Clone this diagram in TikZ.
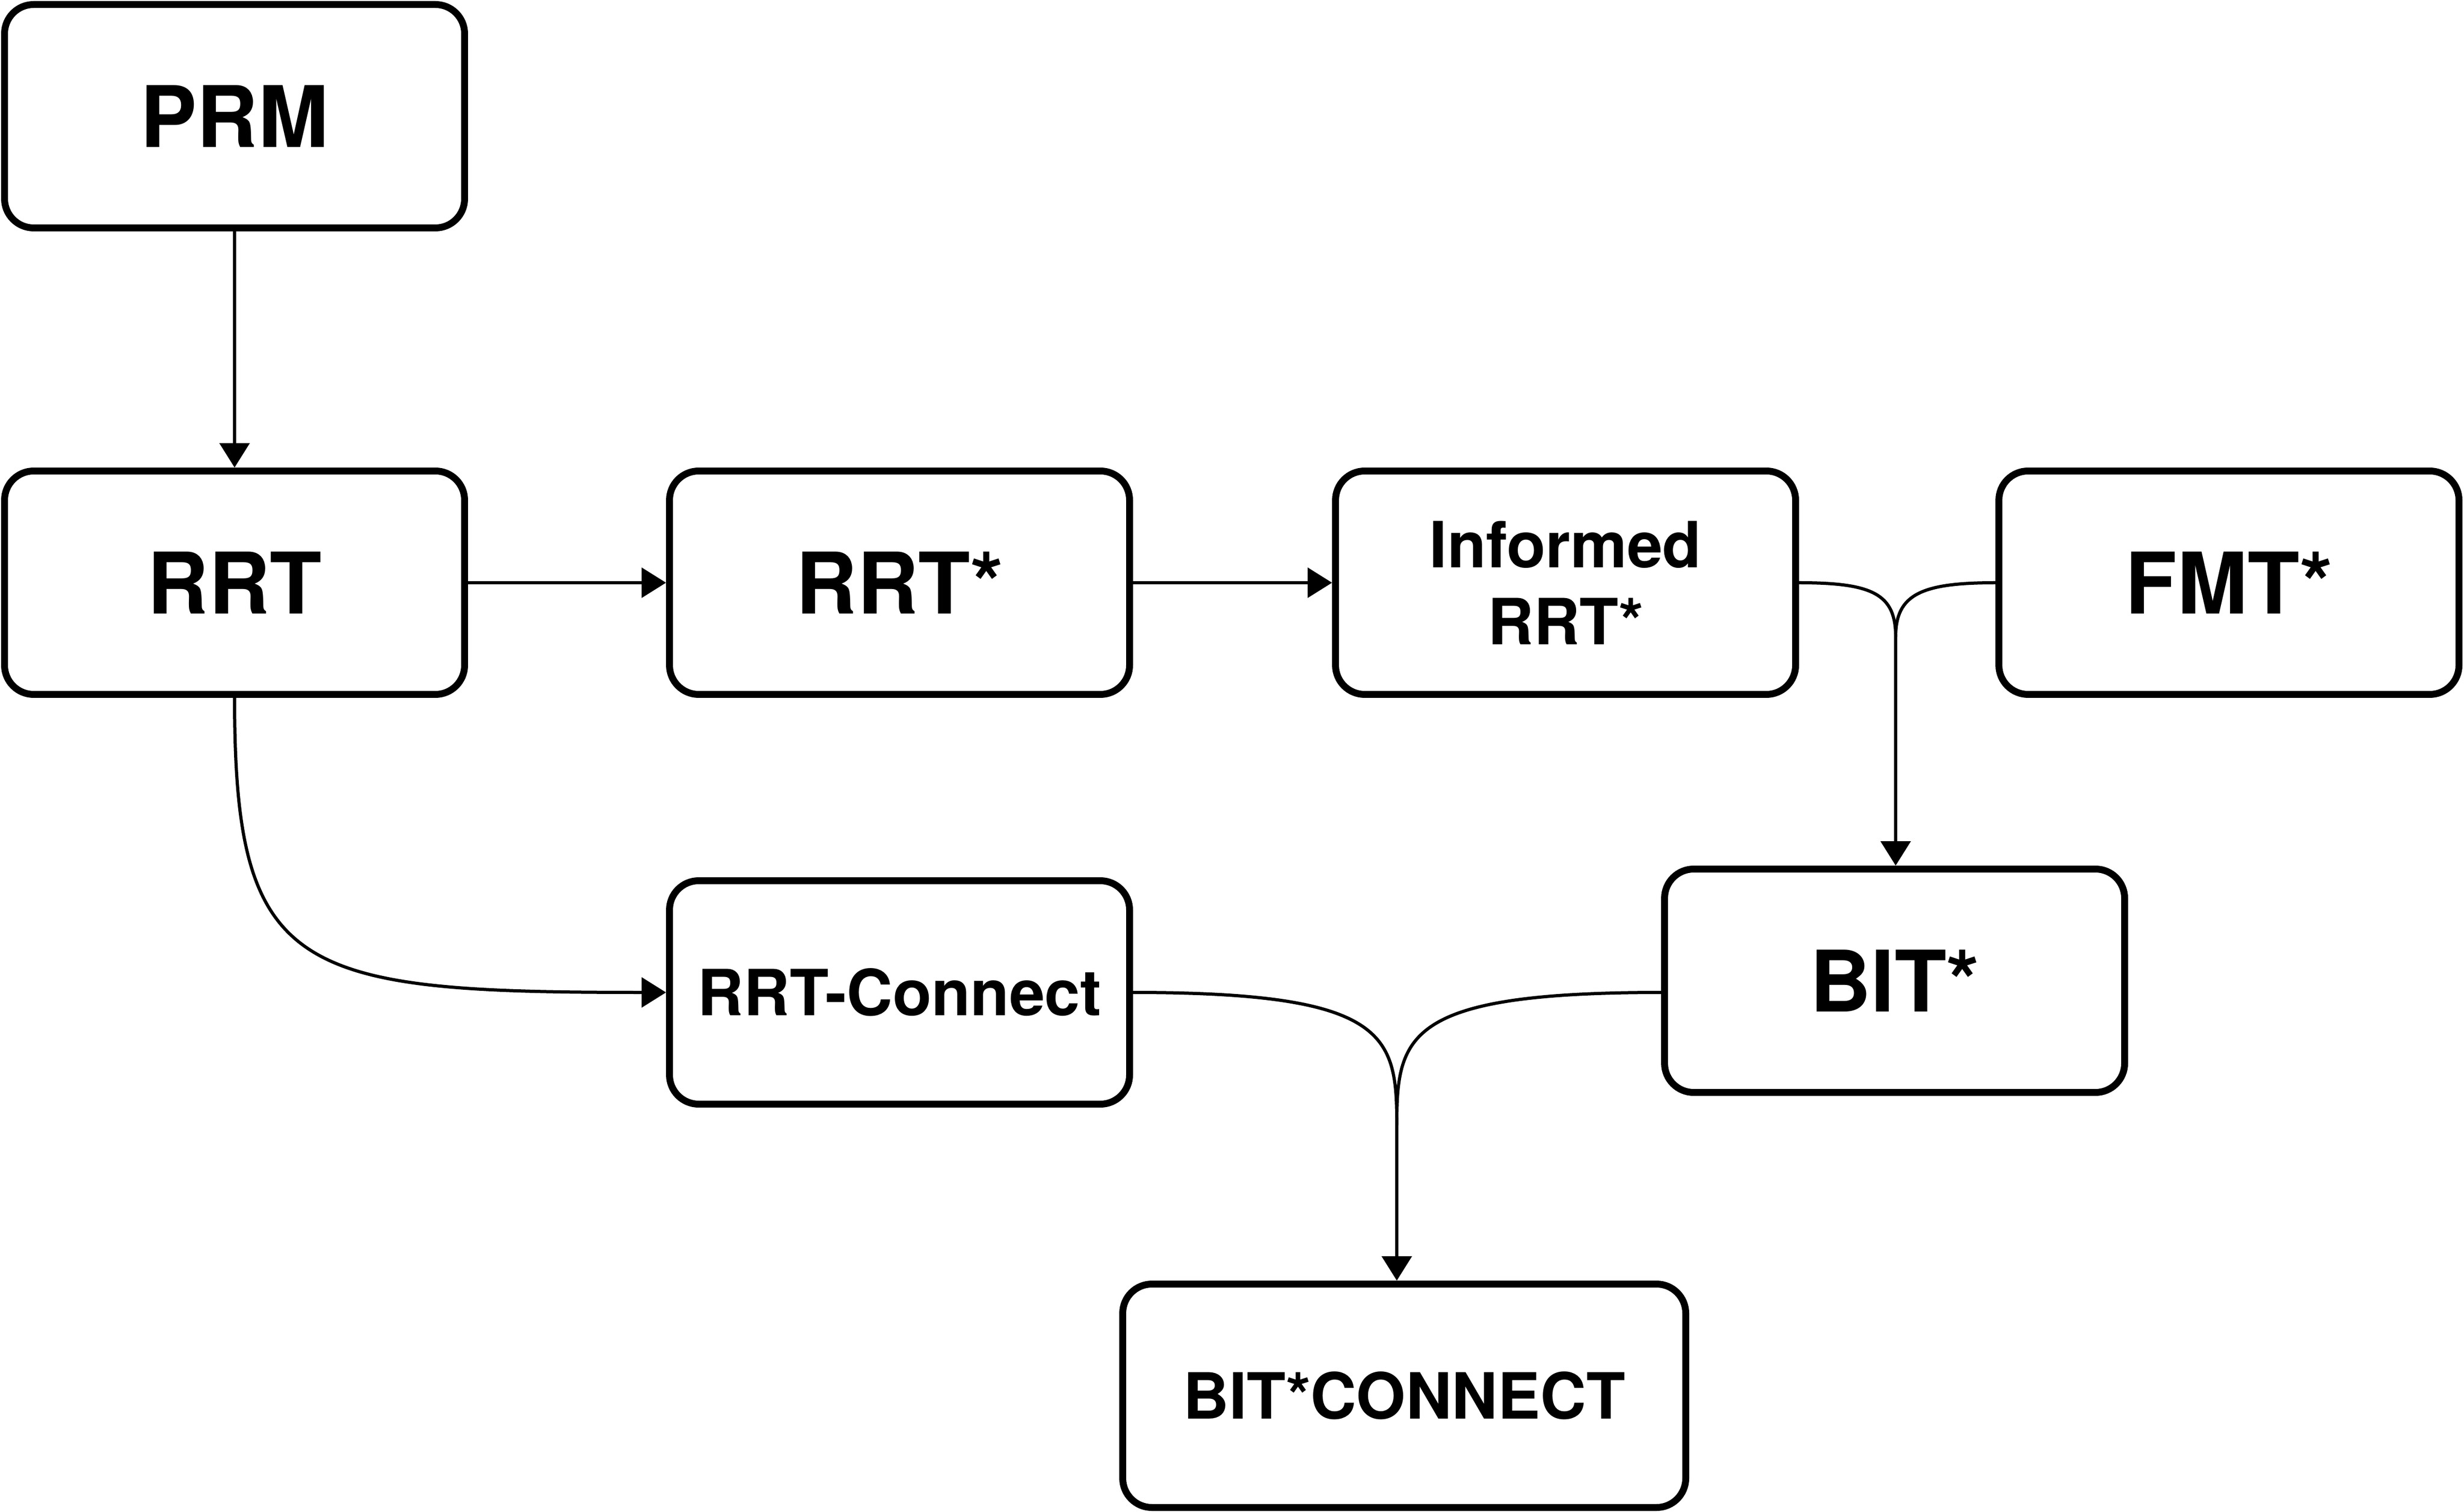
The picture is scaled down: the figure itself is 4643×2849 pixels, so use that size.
\documentclass[tikz,border=0pt]{standalone}
\usepackage{fontspec}
\setmainfont{TeX Gyre Heros}
\usetikzlibrary{arrows.meta}
\begin{document}
\begin{tikzpicture}[x=0.1pt,y=-0.1pt,
  algoBox/.style={draw=drawColor,line width=1.3pt,rounded corners=5.5pt,inner sep=0pt,
    minimum width=86.7pt,minimum height=42.1pt,align=center,text=drawColor},
  bigText/.style={font=\fontsize{16}{19}\selectfont\bfseries},
  smallText/.style={font=\fontsize{12}{14.5}\selectfont\bfseries},
  linkLine/.style={draw=drawColor,line width=0.6pt},
  linkArrow/.style={linkLine,-{Triangle[length=4.6pt,width=5.6pt]}}]
\definecolor{fillColor}{RGB}{255,255,255}
\definecolor{drawColor}{RGB}{0,0,0}
\path[use as bounding box,fill=fillColor] (0,0) rectangle (4643,2849);

\node[algoBox,bigText] (prm) at ( 442, 219) {PRM};

\node[algoBox,bigText] (rrt) at ( 442,1098) {RRT};

\node[algoBox,bigText] (rrtStar) at (1695,1098) {RRT*};

\node[algoBox,smallText] (informed) at (2950,1098) {Informed\\RRT*};

\node[algoBox,bigText] (fmtStar) at (4200,1098) {FMT*};

\node[algoBox,smallText] (rrtConnect) at (1695,1870) {RRT-Connect};

\node[algoBox,bigText] (bitStar) at (3570,1848) {BIT*};

\node[algoBox,smallText,minimum width=106.1pt] (bitConnect) at (2646,2630) {BIT*CONNECT};

\coordinate (mergeTop) at (3572,1200);

\coordinate (mergeBottom) at (2632,2120);

\path[linkArrow] (prm.south) -- (rrt.north);

\path[linkArrow] (rrt.east) -- (rrtStar.west);

\path[linkArrow] (rrtStar.east) -- (informed.west);

\path[linkArrow] (rrt.south) .. controls +(0,520) and +(-700,0) .. (rrtConnect.west);

\path[linkLine] (informed.east) .. controls +(140,0) and +(0,-80) .. (mergeTop);

\path[linkLine] (fmtStar.west) .. controls +(-140,0) and +(0,-80) .. (mergeTop);

\path[linkArrow] (mergeTop) -- (mergeTop |- bitStar.north);

\path[linkLine] (rrtConnect.east) .. controls +(480,0) and +(0,-170) .. (mergeBottom);

\path[linkLine] (bitStar.west |- rrtConnect.east) .. controls +(-480,0) and +(0,-170) .. (mergeBottom);

\path[linkArrow] (mergeBottom) -- (mergeBottom |- bitConnect.north);
\end{tikzpicture}
\end{document}
